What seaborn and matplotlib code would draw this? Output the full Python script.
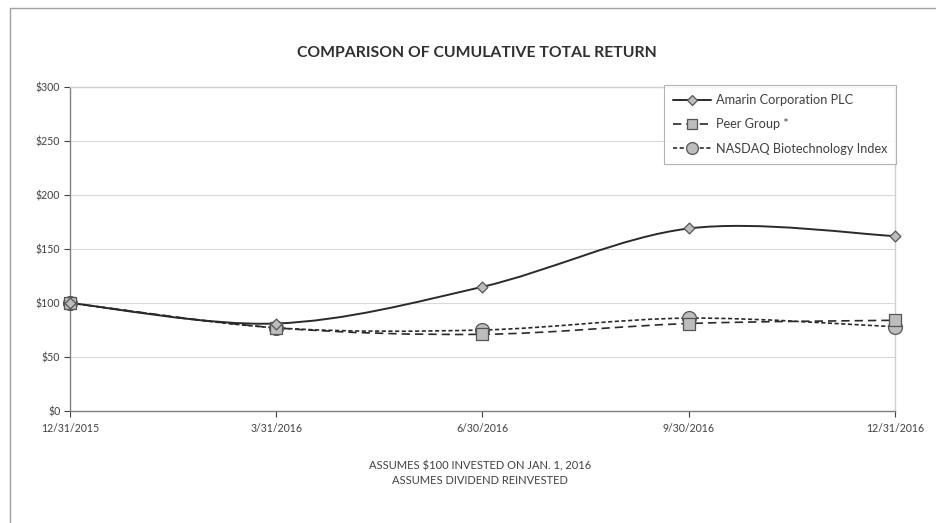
import numpy as np
import pandas as pd
import matplotlib
matplotlib.use("Agg")
import matplotlib.pyplot as plt
from matplotlib.path import Path
from matplotlib.patches import PathPatch, Rectangle
from matplotlib.lines import Line2D
import seaborn as sns

dates = ["12/31/2015", "3/31/2016", "6/30/2016", "9/30/2016", "12/31/2016"]
amarin = [100, 81, 115, 169, 162]
peer = [100, 77, 71, 81, 84]
nasdaq = [100, 77, 75, 86, 78]
series_names = ["Amarin Corporation PLC", "Peer Group *", "NASDAQ Biotechnology Index"]
yticks = [0, 50, 100, 150, 200, 250, 300]
title = "COMPARISON OF CUMULATIVE TOTAL RETURN"
notes = ["ASSUMES $100 INVESTED ON JAN. 1, 2016", "ASSUMES DIVIDEND REINVESTED"]

sns.set_theme(style="white")
plt.rcParams['font.family'] = ['Lato', 'DejaVu Sans']
txt = "#404040"

fig = plt.figure(figsize=(9.37, 5.23), dpi=100)
ax = fig.add_axes([70/937, 1-411/523, (895-70)/937, (411-87)/523])

styles = {
    series_names[0]: dict(marker="D", ms=5.5, ls="-", lw=1.4, dash=None),
    series_names[1]: dict(marker="s", ms=8, ls="--", lw=1.2, dash=(5, 3)),
    series_names[2]: dict(marker="o", ms=10, ls=":", lw=1.2, dash=(2.5, 1.5)),
}

df = pd.DataFrame({"x": list(range(len(dates))) * 3,
                   "value": amarin + peer + nasdaq,
                   "series": sum([[n] * len(dates) for n in series_names], [])})

def smooth_path(xs, ys):
    pts = np.column_stack([xs, ys]).astype(float)
    n = len(pts)
    verts = [pts[0]]
    codes = [Path.MOVETO]
    for i in range(n - 1):
        p0 = pts[i - 1] if i > 0 else pts[i]
        p1 = pts[i]
        p2 = pts[i + 1]
        p3 = pts[i + 2] if i + 2 < n else pts[i + 1]
        c1 = p1 + (p2 - p0) / 6.0
        c2 = p2 - (p3 - p1) / 6.0
        verts += [c1, c2, p2]
        codes += [Path.CURVE4] * 3
    return Path(verts, codes)

lw_order = [series_names[2], series_names[1], series_names[0]]
for name in lw_order:
    sub = df[df.series == name]
    st = styles[name]
    patch = PathPatch(smooth_path(sub.x.values, sub.value.values), fill=False,
                      edgecolor="#2a2a2a", lw=st["lw"], zorder=3)
    if st["dash"]:
        patch.set_linestyle((0, st["dash"]))
    ax.add_patch(patch)

for name in lw_order:
    sub = df[df.series == name]
    st = styles[name]
    sns.scatterplot(data=sub, x="x", y="value", ax=ax, marker=st["marker"],
                    s=st["ms"] ** 2, color="#bdbdbd", edgecolor="#555555",
                    linewidth=0.9, zorder=4, legend=False, clip_on=False)

ax.set_xlim(0, len(dates) - 1)
ax.set_ylim(0, 300)
ax.set_xticks(range(len(dates)))
ax.set_xticklabels(dates)
ax.set_yticks(yticks)
ax.set_yticklabels([f"${v}" for v in yticks])
ax.set_xlabel("")
ax.set_ylabel("")
ax.tick_params(axis="both", labelsize=7.6, colors=txt, length=4, width=0.8,
               direction="out", pad=3)
ax.tick_params(axis="x", bottom=True, pad=5)
ax.tick_params(axis="y", left=True)
for t in ax.get_xticklabels() + ax.get_yticklabels():
    t.set_color(txt)
ax.yaxis.grid(True, color="#d9d9d9", lw=0.8)
ax.set_axisbelow(True)
for s in ["top", "right"]:
    ax.spines[s].set_color("#d0d0d0")
    ax.spines[s].set_linewidth(1.0)
for s in ["left", "bottom"]:
    ax.spines[s].set_color("#808080")
    ax.spines[s].set_linewidth(1.0)

handles = []
for name in series_names:
    st = styles[name]
    h = Line2D([0], [0], color="#2a2a2a", lw=st["lw"], marker=st["marker"],
               ms=st["ms"] * 0.85, markerfacecolor="#bdbdbd",
               markeredgecolor="#555555", markeredgewidth=0.9)
    if st["dash"]:
        h.set_dashes(st["dash"])
    handles.append(h)
leg = ax.legend(handles, series_names, loc="upper right", bbox_to_anchor=(1.0015, 1.005),
                fontsize=9.2, frameon=True, fancybox=False, handlelength=3.0,
                labelspacing=0.95, borderpad=0.7, handletextpad=0.35,
                borderaxespad=0)
leg.get_frame().set_edgecolor("#a0a0a0")
leg.get_frame().set_linewidth(0.8)
for t in leg.get_texts():
    t.set_color(txt)

fig.text(477/937, 1 - 53/523, title, ha="center", va="center", fontsize=11.3,
         fontweight="bold", color="#303030")
fig.text(480/937, 1 - 466/523, notes[0], ha="center", va="center", fontsize=8.0, color=txt)
fig.text(480/937, 1 - 480/523, notes[1], ha="center", va="center", fontsize=8.0, color=txt)

fig.add_artist(Rectangle((10/937, -0.1), 1.2, 1 - 8/523 + 0.1, transform=fig.transFigure,
                         fill=False, edgecolor="#a0a0a0", lw=1.0))

fig.savefig("out.png", dpi=100)
